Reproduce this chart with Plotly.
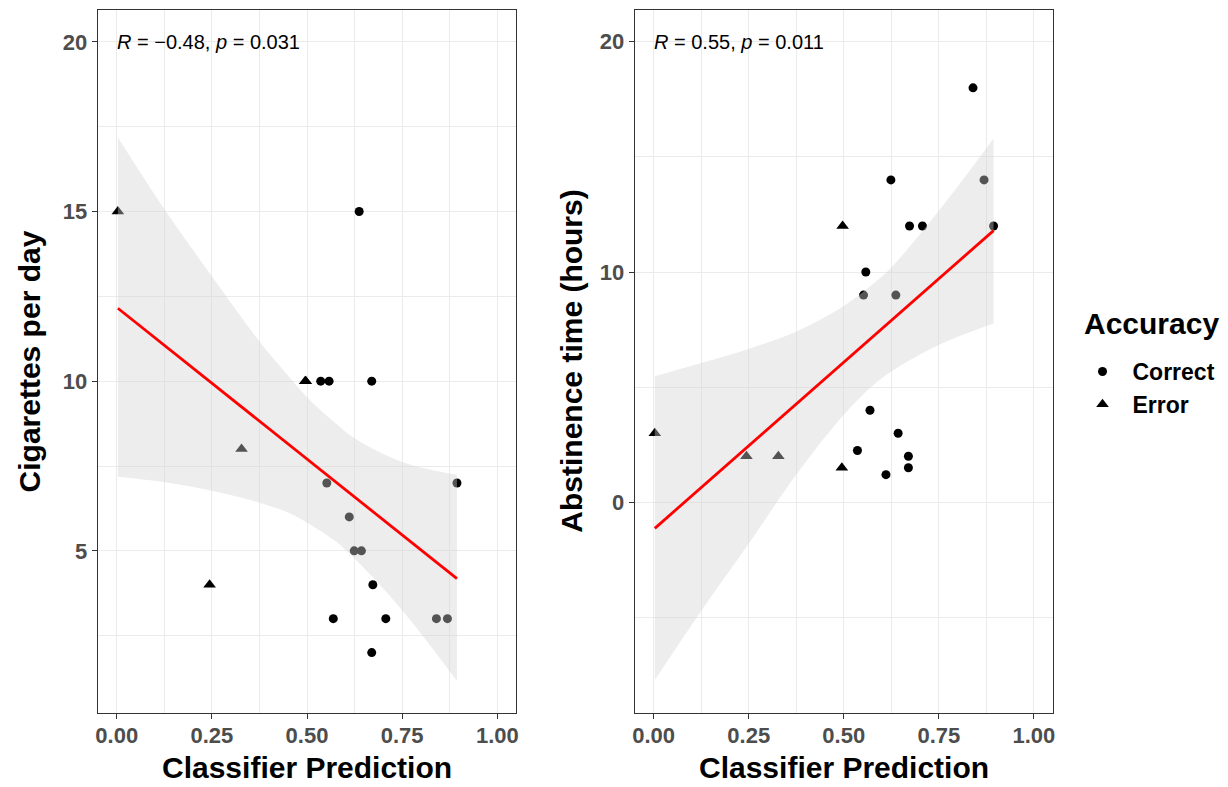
import plotly.graph_objects as go

# ---------------- data ----------------
pred = [0.003, 0.244, 0.328, 0.495, 0.497, 0.536, 0.552, 0.558, 0.569, 0.611,
        0.624, 0.637, 0.643, 0.670, 0.670, 0.673, 0.707, 0.840, 0.869, 0.894]
cigs = [15, 4, 8, 10, 10, 10, 7, 10, 3, 6, 5, 15, 5, 10, 2, 4, 3, 3, 3, 7]
hours = [3, 2, 2, 1.5, 12, 2.25, 9, 10, 4, 1.2, 14, 9, 3, 2, 1.5, 12, 12, 18, 14, 12]
accuracy = ["Error"] * 5 + ["Correct"] * 15

# fitted lines and confidence bands
left_fit_x = [0.003, 0.894]
left_fit_y = [12.15, 4.18]
left_band_x = [0.003, 0.125, 0.25, 0.375, 0.45, 0.5, 0.575, 0.625, 0.75, 0.894]
left_upper = [17.18, 15.07, 13.09, 11.17, 10.17, 9.53, 8.76, 8.32, 7.62, 7.24]
left_lower = [7.18, 7.02, 6.77, 6.42, 6.13, 5.83, 5.28, 4.77, 3.25, 1.16]

right_fit_x = [0.003, 0.894]
right_fit_y = [-1.13, 11.80]
right_band_x = [0.003, 0.125, 0.25, 0.375, 0.5, 0.575, 0.625, 0.75, 0.894]
right_upper = [5.47, 6.05, 6.66, 7.42, 8.53, 9.46, 10.2, 12.66, 15.8]
right_lower = [-7.72, -4.72, -1.8, 1.2, 3.8, 5.05, 5.68, 6.83, 7.76]

left_label = "<i>R</i> = \u22120.48, <i>p</i> = 0.031"
right_label = "<i>R</i> = 0.55, <i>p</i> = 0.011"
label_y = 20

groups = ["Correct", "Error"]
symbols = {"Correct": "circle", "Error": "triangle-up"}
sizes = {"Correct": 9, "Error": 11}

FONT = "Liberation Sans, Arial, sans-serif"

# page body has an 8px margin: work in screen pixels and convert
OFF = 8
W, H = 1220, 779


def fx(px):
    return (px - OFF) / W


def fy(py):
    return 1 - (py - OFF) / H


fig = go.Figure()


def add_panel(xa, ya, yvals, band_x, upper, lower, fit_x, fit_y, legend):
    for g in groups:
        xs = [p for p, a in zip(pred, accuracy) if a == g]
        ys = [v for v, a in zip(yvals, accuracy) if a == g]
        fig.add_trace(go.Scatter(
            x=xs, y=ys, mode="markers", name=g, xaxis=xa, yaxis=ya,
            marker=dict(symbol=symbols[g], size=sizes[g], color="black",
                        line=dict(width=0)),
            showlegend=legend, legendgroup=g, hoverinfo="skip"))
    fig.add_trace(go.Scatter(
        x=band_x, y=lower, mode="lines", line=dict(width=0, shape="spline"),
        xaxis=xa, yaxis=ya, showlegend=False, hoverinfo="skip"))
    fig.add_trace(go.Scatter(
        x=band_x, y=upper, mode="lines", line=dict(width=0, shape="spline"),
        fill="tonexty", fillcolor="rgba(211,211,211,0.4)",
        xaxis=xa, yaxis=ya, showlegend=False, hoverinfo="skip"))
    fig.add_trace(go.Scatter(
        x=fit_x, y=fit_y, mode="lines", line=dict(color="#FF0000", width=2.8),
        xaxis=xa, yaxis=ya, showlegend=False, hoverinfo="skip"))


add_panel("x", "y", cigs, left_band_x, left_upper, left_lower,
          left_fit_x, left_fit_y, True)
add_panel("x2", "y2", hours, right_band_x, right_upper, right_lower,
          right_fit_x, right_fit_y, False)

grid = "#EBEBEB"
axis_common = dict(
    showline=True, mirror=True, linecolor="#333333", linewidth=1.2,
    ticks="outside", ticklen=5, tickwidth=1.2, tickcolor="#333333",
    showgrid=True, gridcolor=grid, gridwidth=1.3, zeroline=False,
    tickfont=dict(family=FONT, size=22, color="#4D4D4D", weight="bold"),
)

xaxis_common = dict(axis_common, range=[-0.05, 1.05], tick0=0, dtick=0.25,
                    tickformat=".2f", ticklabelstandoff=-3,
                    minor=dict(dtick=0.125, tick0=0, showgrid=True,
                               gridcolor=grid, gridwidth=0.8, ticks=""))

ydom = [fy(713), fy(10)]
fig.update_layout(
    width=W, height=H,
    margin=dict(l=0, r=0, t=0, b=0),
    paper_bgcolor="white", plot_bgcolor="white",
    xaxis=dict(xaxis_common, domain=[fx(96), fx(516)], anchor="y"),
    yaxis=dict(axis_common, domain=ydom, anchor="x", range=[0.22, 20.94],
               tick0=0, dtick=5,
               minor=dict(dtick=2.5, tick0=0, showgrid=True, gridcolor=grid,
                          gridwidth=0.8, ticks="")),
    xaxis2=dict(xaxis_common, domain=[fx(634.7), fx(1054.3)], anchor="y2"),
    yaxis2=dict(axis_common, domain=ydom, anchor="x2", range=[-9.15, 21.38],
                tick0=0, dtick=10,
                minor=dict(dtick=5, tick0=0, showgrid=True, gridcolor=grid,
                           gridwidth=0.8, ticks="")),
    legend=dict(
        x=fx(1074), y=fy(350), xanchor="left", yanchor="top",
        font=dict(family=FONT, size=23, color="black", weight="bold"),
        bgcolor="rgba(0,0,0,0)", tracegroupgap=0, itemwidth=50,
    ),
    showlegend=True,
)

title_font = dict(family=FONT, size=30, color="black", weight="bold")
ann = [
    dict(text="Classifier Prediction", x=fx(306), y=fy(767), xref="paper",
         yref="paper", showarrow=False, font=title_font,
         xanchor="center", yanchor="middle"),
    dict(text="Classifier Prediction", x=fx(844.5), y=fy(767), xref="paper",
         yref="paper", showarrow=False, font=title_font,
         xanchor="center", yanchor="middle"),
    dict(text="Cigarettes per day", x=fx(28), y=fy(361.5), xref="paper",
         yref="paper", showarrow=False, font=title_font, textangle=-90,
         xanchor="center", yanchor="middle"),
    dict(text="Abstinence time (hours)", x=fx(571), y=fy(361.5),
         xref="paper", yref="paper", showarrow=False, font=title_font,
         textangle=-90, xanchor="center", yanchor="middle"),
    dict(text="Accuracy", x=fx(1084), y=fy(323), xref="paper", yref="paper",
         showarrow=False, font=title_font, xanchor="left", yanchor="middle"),
    dict(text=left_label, x=min(pred), y=label_y, xref="x", yref="y",
         showarrow=False, xanchor="left", yanchor="middle", xshift=-3,
         font=dict(family=FONT, size=20, color="black")),
    dict(text=right_label, x=min(pred), y=label_y, xref="x2", yref="y2",
         showarrow=False, xanchor="left", yanchor="middle", xshift=-3,
         font=dict(family=FONT, size=20, color="black")),
]
fig.update_layout(annotations=ann)

fig.write_html("out.html")
